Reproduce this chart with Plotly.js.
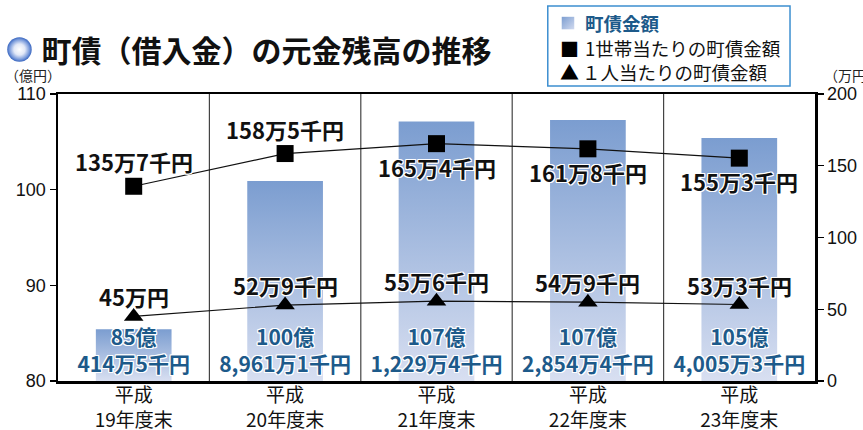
<!DOCTYPE html>
<html>
<head>
<meta charset="utf-8">
<script src="https://cdn.plot.ly/plotly-3.0.1.min.js"></script>
<style>
  html, body { margin: 0; padding: 0; background: #fff; }
  #chart { width: 863px; height: 430px; }
</style>
</head>
<body>
<div id="chart"></div>
<script>
// 年度
const categories = ['平成<br>19年度末', '平成<br>20年度末', '平成<br>21年度末', '平成<br>22年度末', '平成<br>23年度末'];

// 町債金額（億円）
const debtTotal = [85.4145, 100.89611, 107.12294, 107.28544, 105.40053];
const debtTotalLabels = ['85億<br>414万5千円', '100億<br>8,961万1千円', '107億<br>1,229万4千円', '107億<br>2,854万4千円', '105億<br>4,005万3千円'];

// 1世帯当たり（万円）
const perHousehold = [135.7, 158.5, 165.4, 161.8, 155.3];
const perHouseholdLabels = ['135万7千円', '158万5千円', '165万4千円', '161万8千円', '155万3千円'];
const perHouseholdLabelSide = ['above', 'above', 'below', 'below', 'below'];

// 1人当たり（万円）
const perPerson = [45.0, 52.9, 55.6, 54.9, 53.3];
const perPersonLabels = ['45万円', '52万9千円', '55万6千円', '54万9千円', '53万3千円'];

const JP = '"Noto Sans CJK JP", "Noto Sans", sans-serif';
const NUM = '"Liberation Sans", Arial, sans-serif';
const halo = '1px 1px 0 #fff, -1px -1px 0 #fff, 1px -1px 0 #fff, -1px 1px 0 #fff, 0 1px 0 #fff, 0 -1px 0 #fff, 1px 0 0 #fff, -1px 0 0 #fff';
const AXIS_BASE = 80;

const traces = [];

traces.push({
    type: 'bar',
    x: categories,
    y: debtTotal.map(v => v - AXIS_BASE),
    base: AXIS_BASE,
    width: 0.5,
    marker: { color: '#a3b6e0', line: { width: 0 } },
    text: debtTotalLabels,
    textposition: 'inside',
    insidetextanchor: 'start',
    constraintext: 'none',
    textangle: 0,
    insidetextfont: { family: JP, size: 21, color: '#1d5a8a', weight: 'bold', shadow: halo },
    hoverinfo: 'skip',
    showlegend: false
});

traces.push({
    type: 'scatter',
    mode: 'lines+markers',
    x: categories,
    y: perHousehold,
    yaxis: 'y2',
    line: { color: '#111', width: 1.2 },
    marker: { symbol: 'square', size: 17, color: '#000' },
    hoverinfo: 'skip',
    showlegend: false
});

traces.push({
    type: 'scatter',
    mode: 'lines+markers',
    x: categories,
    y: perPerson,
    yaxis: 'y2',
    line: { color: '#111', width: 1.2 },
    marker: { symbol: 'triangle-up', size: 17, color: '#000' },
    hoverinfo: 'skip',
    showlegend: false
});

// separators between years
const shapes = categories.slice(1).map((c, i) => ({
    type: 'line', xref: 'x', yref: 'paper',
    x0: i + 0.5, x1: i + 0.5, y0: 0, y1: 1,
    line: { color: '#444', width: 1.2 },
    layer: 'below'
}));

// legend frame
shapes.push({
    type: 'rect', xref: 'paper', yref: 'paper',
    x0: 0.647, x1: 0.967, y0: 1.028, y1: 1.307,
    line: { color: '#3d8fd0', width: 1.5 },
    fillcolor: 'rgba(0,0,0,0)'
});

const sphere = 'data:image/svg+xml;utf8,' + encodeURIComponent(
    '<svg xmlns="http://www.w3.org/2000/svg" width="50" height="50">' +
    '<defs><radialGradient id="g" cx="50%" cy="50%" r="50%">' +
    '<stop offset="0" stop-color="#ffffff"/><stop offset="0.45" stop-color="#e2e8f7"/>' +
    '<stop offset="0.8" stop-color="#7d9ddc"/><stop offset="1" stop-color="#3a67c0"/>' +
    '</radialGradient></defs><circle cx="25" cy="25" r="24.5" fill="url(#g)"/></svg>');

const swatch = 'data:image/svg+xml;utf8,' + encodeURIComponent(
    '<svg xmlns="http://www.w3.org/2000/svg" width="40" height="40">' +
    '<defs><linearGradient id="s" x1="0" y1="0" x2="1" y2="1">' +
    '<stop offset="0" stop-color="#7b9dd0"/><stop offset="1" stop-color="#d3dbf0"/>' +
    '</linearGradient></defs><rect width="40" height="40" fill="url(#s)"/></svg>');

const labelFont = { family: JP, size: 22, color: '#111', weight: 'bold', shadow: halo };

const annotations = [
    { text: '（億円）', xref: 'paper', yref: 'paper', x: -0.0727, y: 1.066, xanchor: 'left', yanchor: 'middle',
      showarrow: false, font: { family: JP, size: 14, color: '#222' } },
    { text: '（万円）', xref: 'paper', yref: 'paper', x: 1.0092, y: 1.066, xanchor: 'left', yanchor: 'middle',
      showarrow: false, font: { family: JP, size: 14, color: '#222' } },
    { text: '町債金額', xref: 'paper', yref: 'paper', x: 0.693, y: 1.247, xanchor: 'left', yanchor: 'middle',
      showarrow: false, font: { family: JP, size: 18.5, color: '#1d5a8a', weight: 'bold' } },
    { text: '■', xref: 'paper', yref: 'paper', x: 0.6605, y: 1.160, xanchor: 'left', yanchor: 'middle',
      showarrow: false, font: { family: JP, size: 19, color: '#000' } },
    { text: '1世帯当たりの町債金額', xref: 'paper', yref: 'paper', x: 0.693, y: 1.160, xanchor: 'left', yanchor: 'middle',
      showarrow: false, font: { family: JP, size: 18.5, color: '#111' } },
    { text: '▲', xref: 'paper', yref: 'paper', x: 0.6605, y: 1.077, xanchor: 'left', yanchor: 'middle',
      showarrow: false, font: { family: JP, size: 19, color: '#000' } },
    { text: '１人当たりの町債金額', xref: 'paper', yref: 'paper', x: 0.690, y: 1.077, xanchor: 'left', yanchor: 'middle',
      showarrow: false, font: { family: JP, size: 18.5, color: '#111' } }
];

// value labels for the two lines
perHousehold.forEach((v, i) => annotations.push({
    text: perHouseholdLabels[i], x: categories[i], y: v, xref: 'x', yref: 'y2',
    yshift: perHouseholdLabelSide[i] === 'above' ? 25 : -23,
    showarrow: false, font: labelFont
}));
perPerson.forEach((v, i) => annotations.push({
    text: perPersonLabels[i], x: categories[i], y: v, xref: 'x', yref: 'y2',
    yshift: 20,
    showarrow: false, font: labelFont
}));

const layout = {
    width: 863,
    height: 430,
    margin: { l: 58, r: 48, t: 94, b: 49 },
    paper_bgcolor: '#fff',
    plot_bgcolor: '#fff',
    title: {
        text: '町債（借入金）の元金残高の推移',
        xref: 'container', yref: 'container',
        x: 0.048, xanchor: 'left', y: 0.88, yanchor: 'middle',
        font: { family: JP, size: 30, color: '#111', weight: 'bold' }
    },
    xaxis: {
        type: 'category',
        showgrid: false,
        showline: true, mirror: true, linecolor: '#000', linewidth: 2.5,
        ticks: '',
        ticklabelstandoff: -4,
        tickfont: { family: JP, size: 19, color: '#111' },
        fixedrange: true
    },
    yaxis: {
        range: [80, 110],
        dtick: 10,
        showgrid: false,
        zeroline: false,
        showline: true, linecolor: '#000', linewidth: 2.5,
        ticks: 'outside', ticklen: 6, tickwidth: 1.2, tickcolor: '#000',
        tickfont: { family: NUM, size: 18, color: '#111' },
        fixedrange: true
    },
    yaxis2: {
        overlaying: 'y',
        side: 'right',
        range: [0, 200],
        dtick: 50,
        showgrid: false,
        zeroline: false,
        showline: true, linecolor: '#000', linewidth: 2.5,
        ticks: 'outside', ticklen: 6, tickwidth: 1.2, tickcolor: '#000',
        tickfont: { family: NUM, size: 18, color: '#111' },
        fixedrange: true
    },
    shapes: shapes,
    annotations: annotations,
    images: [
        { source: sphere, xref: 'paper', yref: 'paper', x: -0.0509, y: 1.155,
          sizex: 0.033, sizey: 0.087, xanchor: 'center', yanchor: 'middle', sizing: 'contain', layer: 'above' },
        { source: swatch, xref: 'paper', yref: 'paper', x: 0.6737, y: 1.247,
          sizex: 0.0172, sizey: 0.0453, xanchor: 'center', yanchor: 'middle', sizing: 'contain', layer: 'above' }
    ],
    showlegend: false
};

Plotly.newPlot('chart', traces, layout, { displayModeBar: false, staticPlot: true }).then(gd => {
    // vertical gradient on the bars
    const svg = gd.querySelector('svg.main-svg');
    const ns = 'http://www.w3.org/2000/svg';
    let defs = svg.querySelector('defs');
    if (!defs) { defs = document.createElementNS(ns, 'defs'); svg.insertBefore(defs, svg.firstChild); }
    const grad = document.createElementNS(ns, 'linearGradient');
    grad.setAttribute('id', 'barGrad');
    grad.setAttribute('x1', '0'); grad.setAttribute('y1', '0');
    grad.setAttribute('x2', '0'); grad.setAttribute('y2', '1');
    [['0', '#7b9dd0'], ['1', '#d8dff1']].forEach(([o, c]) => {
        const s = document.createElementNS(ns, 'stop');
        s.setAttribute('offset', o); s.setAttribute('stop-color', c);
        grad.appendChild(s);
    });
    defs.appendChild(grad);
    gd.querySelectorAll('.barlayer .point path').forEach(p => { p.style.fill = 'url(#barGrad)'; });
});
</script>
</body>
</html>
